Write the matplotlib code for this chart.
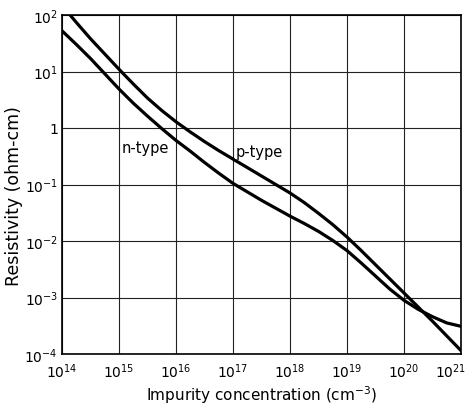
import numpy as np
import matplotlib
matplotlib.use("Agg")
import matplotlib.pyplot as plt
from matplotlib.transforms import ScaledTranslation

# Data (log10 of concentration in cm^-3, log10 of resistivity in ohm-cm)
n_logN   = [14.0, 14.25, 14.5, 14.75, 15.0, 15.25, 15.5, 15.75, 16.0, 16.25, 16.5, 16.75,
            17.0, 17.25, 17.5, 17.75, 18.0, 18.25, 18.5, 18.75, 19.0, 19.25, 19.5, 19.75,
            20.0, 20.25, 20.5, 20.75, 21.0]
n_logrho = [1.72, 1.48, 1.23, 0.96, 0.69, 0.44, 0.21, -0.01, -0.22, -0.41, -0.61, -0.80,
            -0.98, -1.13, -1.28, -1.42, -1.56, -1.69, -1.83, -1.99, -2.17, -2.39, -2.62, -2.85,
            -3.05, -3.21, -3.34, -3.45, -3.51]

p_logN   = [14.0, 14.25, 14.5, 14.75, 15.0, 15.25, 15.5, 15.75, 16.0, 16.25, 16.5, 16.75,
            17.0, 17.25, 17.5, 17.75, 18.0, 18.25, 18.5, 18.75, 19.0, 19.25, 19.5, 19.75,
            20.0, 20.25, 20.5, 20.75, 21.0]
p_logrho = [2.17, 1.87, 1.58, 1.31, 1.04, 0.78, 0.53, 0.31, 0.11, -0.07, -0.24, -0.40,
            -0.55, -0.70, -0.85, -1.00, -1.15, -1.32, -1.51, -1.71, -1.93, -2.17, -2.42, -2.67,
            -2.92, -3.17, -3.42, -3.68, -3.94]

x_ticks = [1e14, 1e15, 1e16, 1e17, 1e18, 1e19, 1e20, 1e21]
x_ticklabels = [r"$10^{14}$", r"$10^{15}$", r"$10^{16}$", r"$10^{17}$",
                r"$10^{18}$", r"$10^{19}$", r"$10^{20}$", r"$10^{21}$"]
y_ticks = [1e-4, 1e-3, 1e-2, 1e-1, 1, 1e1, 1e2]
y_ticklabels = [r"$10^{-4}$", r"$10^{-3}$", r"$10^{-2}$", r"$10^{-1}$", "1",
                r"$10^{1}$", r"$10^{2}$"]

plt.rcParams['font.family'] = ['DejaVu Sans']
plt.rcParams['mathtext.fontset'] = 'dejavusans'

fig = plt.figure(figsize=(4.69, 4.06), dpi=100)
ax = fig.add_axes([62/469, 1-355/406, (461-62)/469, (355-16)/406])

ax.plot(10**np.array(n_logN), 10**np.array(n_logrho), color='black', lw=2.3,
        solid_joinstyle='round')
ax.plot(10**np.array(p_logN), 10**np.array(p_logrho), color='black', lw=2.3,
        solid_joinstyle='round')

ax.set_xscale('log')
ax.set_yscale('log')
ax.set_xlim(1e14, 1e21)
ax.set_ylim(1e-4, 1e2)
ax.set_xticks(x_ticks)
ax.set_xticklabels(x_ticklabels, fontsize=10)
ax.set_yticks(y_ticks)
ax.set_yticklabels(y_ticklabels, fontsize=10)
ax.minorticks_off()
ax.tick_params(axis='x', length=0, pad=5)
ax.tick_params(axis='y', length=0, pad=3)
ax.grid(True, color='#222222', lw=0.8)
for s in ax.spines.values():
    s.set_linewidth(1.2)

# keep the last x tick label inside the figure, as in the original
last = ax.get_xticklabels()[-1]
last.set_transform(last.get_transform() + ScaledTranslation(-10/100, 0, fig.dpi_scale_trans))

ax.set_xlabel(r"Impurity concentration (cm$^{-3}$)", fontsize=11, va='top')
ax.xaxis.set_label_coords(0.5, (355 - 384) / 339)
ax.set_ylabel("Resistivity (ohm-cm)", fontsize=12.5, va='bottom')
ax.yaxis.set_label_coords((23 - 62) / 399, 0.47)

ax.text(10**15.05, 10**(2 - (148-16)/56.5), "n-type", fontsize=10.5, va='center', ha='left',
        bbox=dict(facecolor='white', edgecolor='none', pad=0.5))
ax.text(10**17.05, 10**(2 - (152-16)/56.5), "p-type", fontsize=10.5, va='center', ha='left',
        bbox=dict(facecolor='white', edgecolor='none', pad=0.5))

fig.savefig("out.png", dpi=100)
